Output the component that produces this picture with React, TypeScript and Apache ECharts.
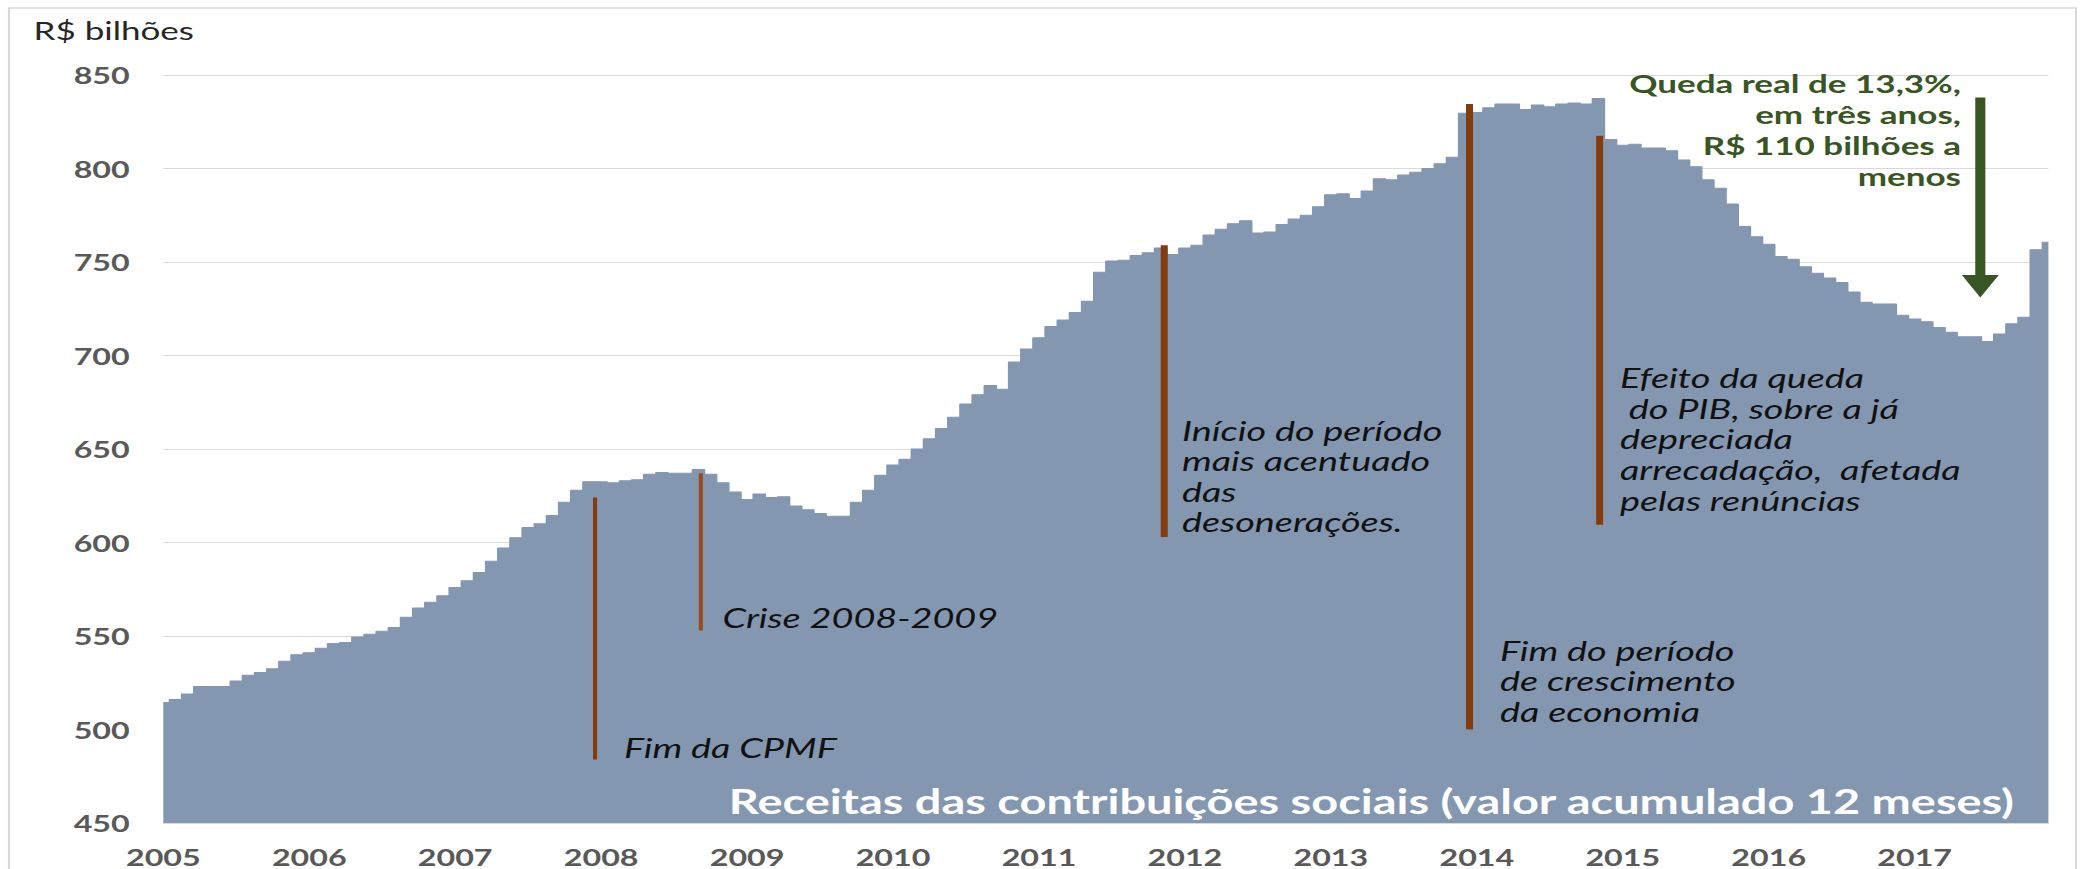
import React, { useEffect, useRef } from "react";
import * as echarts from "echarts";

// ---- data ----
const years = [2005, 2006, 2007, 2008, 2009, 2010, 2011, 2012, 2013, 2014, 2015, 2016, 2017];
const v2005 = [514.5, 516, 519, 523, 523, 523, 526, 529, 530.5, 532.5, 536.5, 540];
const v2006 = [541, 543.5, 546, 546.5, 549.5, 551, 552.5, 554.5, 560, 565, 568, 571.5];
const v2007 = [576, 579.5, 584, 590, 597, 602.5, 608, 610, 614.5, 621.5, 628, 632.5];
const v2008 = [632.5, 632, 633, 633.5, 636.5, 637.5, 637, 637, 639, 636.5, 632, 627];
const v2009 = [623, 626, 624, 624.5, 619.5, 617.5, 615.5, 614, 614, 621.5, 628, 636];
const v2010 = [641.5, 644.5, 650, 655.5, 661, 667, 674, 679, 684, 682, 696.5, 703.5];
const v2011 = [709.5, 715.5, 719, 723, 729, 744.5, 750.5, 751, 753.5, 755, 757.5, 754];
const v2012 = [757.5, 759, 764.5, 767.5, 770.5, 772, 765.5, 766, 770, 773, 775, 779.5];
const v2013 = [786, 786.5, 784, 788, 794.5, 794, 796.5, 798, 800, 802.5, 806, 829.5];
const v2014 = [830, 832.5, 834.5, 834.5, 831.5, 834, 833, 834.5, 835, 834.5, 837.5, 815.5];
const v2015 = [812.5, 813, 811, 811, 809.5, 804.5, 801, 794, 789.5, 781, 769, 763.5];
const v2016 = [759.5, 753, 751.5, 747.5, 744, 741.5, 739, 734, 728.5, 727.5, 727.5, 721.5];
const v2017 = [719.5, 718, 715, 712.5, 710, 710, 707.5, 711.5, 717, 720.5, 756.5, 760.5];
const values = [
  ...v2005, ...v2006, ...v2007, ...v2008, ...v2009, ...v2010, ...v2011,
  ...v2012, ...v2013, ...v2014, ...v2015, ...v2016, ...v2017,
];
const categories = years.flatMap((y) =>
  Array.from({ length: 12 }, (_, m) => `${y}-${String(m + 1).padStart(2, "0")}`)
);

// event markers: month position (index, fractional), value range
const markerMonths = [35.5, 44.2, 82.3, 107.4, 118.1];
const markerFrom = [484, 553, 603, 500, 609.5];
const markerTo = [624, 637, 759, 834.5, 817.5];
// green arrow
const arrowMonth = 149.4;
const arrowFrom = 838;
const arrowHeadBase = 743;
const arrowTo = 731;

const yTicks = { min: 450, max: 850, step: 50 };

const S = 2084 / 1488; // horizontal stretch of the original picture
const FONT = "Lato";

export default function App() {
  const ref = useRef<HTMLDivElement>(null);
  useEffect(() => {
    if (!ref.current) return;
    const chart = echarts.init(ref.current, undefined, { renderer: "svg" });
    chart.setOption({
      animation: false,
      backgroundColor: "#ffffff",
      grid: { left: 116.6, right: 25.4, top: 75, bottom: 46, containLabel: false },
      xAxis: {
        type: "category",
        data: categories,
        boundaryGap: false,
        axisLine: { show: true, lineStyle: { color: "#d9d9d9", width: 1 } },
        axisTick: { show: false },
        splitLine: { show: false },
        axisLabel: {
          interval: 11,
          formatter: (v: string) => v.slice(0, 4),
          color: "#595959",
          fontWeight: "bold",
          fontSize: 23,
          fontFamily: FONT,
          margin: 22,
        },
      },
      yAxis: {
        type: "value",
        min: yTicks.min,
        max: yTicks.max,
        interval: yTicks.step,
        axisLine: { show: false },
        axisTick: { show: false },
        splitLine: { lineStyle: { color: "#d9d9d9", width: 1 } },
        axisLabel: {
          color: "#595959",
          fontWeight: "bold",
          fontSize: 23,
          fontFamily: FONT,
          margin: 24,
        },
      },
      series: [
        {
          type: "line",
          data: values,
          step: "middle",
          symbol: "none",
          silent: true,
          lineStyle: { width: 1, color: "#8497b0" },
          areaStyle: { color: "#8497b0", opacity: 1, origin: "start" },
        },
      ],
    });

    const px = (f: number) => {
      const i0 = Math.floor(f);
      const a = chart.convertToPixel({ xAxisIndex: 0 }, categories[i0]) as number;
      const b = chart.convertToPixel({ xAxisIndex: 0 }, categories[i0 + 1]) as number;
      return a + (f - i0) * (b - a);
    };
    const py = (v: number) => chart.convertToPixel({ yAxisIndex: 0 }, v) as number;

    const brown = "#843c0c";
    const widths = [2.9, 2.9, 5, 5, 5];
    const colors = [brown, "#9a4a1c", brown, brown, brown];
    const lines: any[] = markerMonths.map((m, i) => ({
      type: "line",
      silent: true,
      shape: { x1: px(m), y1: py(markerTo[i]), x2: px(m), y2: py(markerFrom[i]) },
      style: { stroke: colors[i], lineWidth: widths[i] },
      z: 10,
    }));

    const ax = px(arrowMonth);
    const green = "#375623";
    const arrow: any[] = [
      {
        type: "rect",
        silent: true,
        shape: { x: ax - 3.6, y: py(arrowFrom), width: 7.2, height: py(arrowHeadBase) - py(arrowFrom) },
        style: { fill: green },
        z: 10,
      },
      {
        type: "polygon",
        silent: true,
        shape: {
          points: [
            [ax - 13.2, py(arrowHeadBase)],
            [ax + 13.2, py(arrowHeadBase)],
            [ax, py(arrowTo)],
          ],
        },
        style: { fill: green },
        z: 10,
      },
    ];

    const italic = (x: number, y: number, text: string, valign: string = "middle") => ({
      type: "text",
      silent: true,
      x,
      y,
      z: 11,
      style: {
        text,
        fill: "#111111",
        font: `italic 27px ${FONT}`,
        textAlign: "left",
        textVerticalAlign: valign,
        lineHeight: 30.6,
      },
    });

    chart.setOption({
      graphic: [
        {
          type: "rect",
          silent: true,
          shape: { x: 9 / S, y: 8, width: (2076 - 9) / S, height: 900 },
          style: { fill: "none", stroke: "#d9d9d9", lineWidth: 1.5 },
          z: 0,
        },
        ...lines,
        ...arrow,
        {
          type: "text",
          silent: true,
          x: 33.5 / S,
          y: 30,
          style: {
            text: "R$ bilhões",
            fill: "#262626",
            font: `25px ${FONT}`,
            textAlign: "left",
            textVerticalAlign: "middle",
          },
        },
        {
          type: "text",
          silent: true,
          x: 2014 / S,
          y: 801,
          z: 11,
          style: {
            text: "Receitas das contribuições sociais (valor acumulado 12 meses)",
            fill: "#ffffff",
            font: `bold 33.5px ${FONT}`,
            textAlign: "right",
            textVerticalAlign: "middle",
          },
        },
        italic(624 / S, 748, "Fim da CPMF"),
        italic(722.5 / S, 618, "Crise 2008-2009"),
        italic(1182 / S, 415, "Início do período\nmais acentuado\ndas\ndesonerações.", "top"),
        italic(1500 / S, 635, "Fim do período\nde crescimento\nda economia", "top"),
        italic(
          1620 / S,
          362.7,
          "Efeito da queda\n do PIB, sobre a já\ndepreciada\narrecadação,  afetada\npelas renúncias",
          "top"
        ),
        {
          type: "text",
          silent: true,
          x: 1961 / S,
          y: 68,
          z: 11,
          style: {
            text: "Queda real de 13,3%,\nem três anos,\nR$ 110 bilhões a\nmenos",
            fill: green,
            font: `bold 25px ${FONT}`,
            textAlign: "right",
            textVerticalAlign: "top",
            lineHeight: 31,
          },
        },
      ],
    });

    return () => chart.dispose();
  }, []);

  return (
    <div
      ref={ref}
      style={{
        position: "absolute",
        left: 0,
        top: 0,
        width: 1488,
        height: 869,
        transform: `scaleX(${S})`,
        transformOrigin: "0 0",
        background: "#ffffff",
      }}
    />
  );
}
